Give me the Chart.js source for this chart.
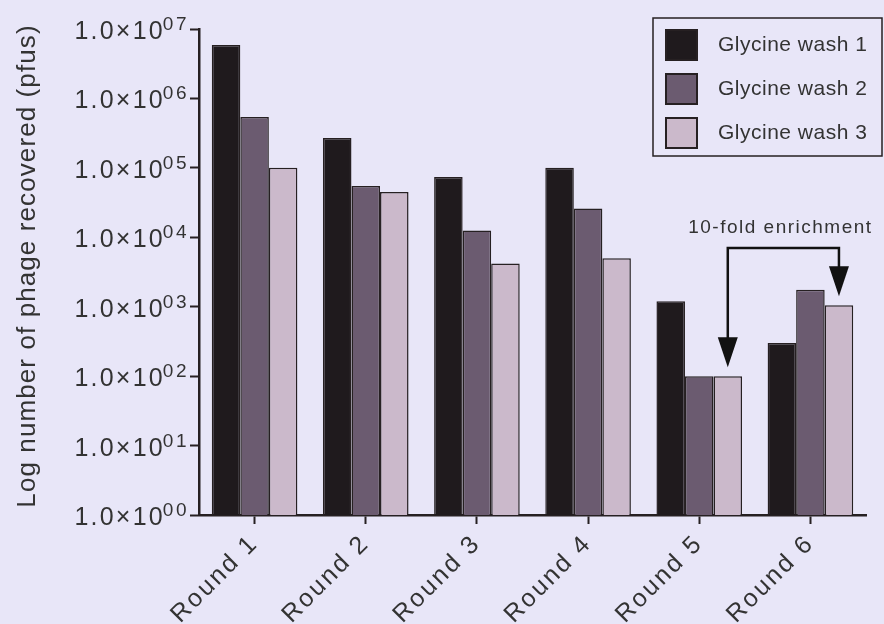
<!DOCTYPE html>
<html>
<head>
<meta charset="utf-8">
<script src="https://cdn.jsdelivr.net/npm/chart.js@4"></script>
<style>
  body { margin: 0; background: #e8e6f8; }
  #wrap { width: 884px; height: 624px; }
</style>
</head>
<body>
<div id="wrap"><canvas id="phageChart"></canvas></div>
<script>
// data (pfus per round)
var rounds = ['Round 1', 'Round 2', 'Round 3', 'Round 4', 'Round 5', 'Round 6'];
var wash1 = [5.9e6, 2.7e5, 7.4e4, 1.0e5, 1.2e3, 3.0e2];
var wash2 = [5.4e5, 5.5e4, 1.25e4, 2.6e4, 1.0e2, 1.75e3];
var wash3 = [1.0e5, 4.5e4, 4.2e3, 5.0e3, 1.0e2, 1.05e3];
var seriesNames = ['Glycine wash 1', 'Glycine wash 2', 'Glycine wash 3'];
var seriesColors = ['#1f1a1d', '#6b5b70', '#cbb9cb'];
var yTicks = [1, 10, 100, 1e3, 1e4, 1e5, 1e6, 1e7];
var yTickLabels = ['1.0×10^00', '1.0×10^01', '1.0×10^02', '1.0×10^03', '1.0×10^04', '1.0×10^05', '1.0×10^06', '1.0×10^07'];
var yTitle = 'Log number of phage recovered (pfus)';
var noteText = '10-fold enrichment';
var noteFrom = 4, noteTo = 5, noteSeries = 2, noteLevel = 7e3;

var textColor = '#333333';
var lineColor = '#262022';
var fontFamily = '"Liberation Sans", Arial, sans-serif';

// background + letter spacing for the x labels
var backgroundPlugin = {
    id: 'backgroundFill',
    beforeDraw: function (chart) {
        var ctx = chart.ctx;
        ctx.save();
        ctx.fillStyle = '#e8e6f8';
        ctx.fillRect(0, 0, chart.width, chart.height);
        ctx.restore();
        ctx.letterSpacing = '2.5px';
    }
};

// y tick labels with a raised exponent, and the y title
var yLabelPlugin = {
    id: 'powerLabels',
    afterDraw: function (chart) {
        var ctx = chart.ctx;
        var y = chart.scales.y;
        ctx.save();
        ctx.fillStyle = textColor;
        ctx.textAlign = 'right';
        ctx.textBaseline = 'alphabetic';
        y.ticks.forEach(function (t) {
            var parts = yTickLabels[yTicks.indexOf(t.value)].split('^');
            var py = y.getPixelForValue(t.value);
            var right = y.right - 12;
            ctx.letterSpacing = '2.5px';
            ctx.font = '19px ' + fontFamily;
            ctx.fillText(parts[1], right + 2, py + 1);
            var w = ctx.measureText(parts[1]).width;
            ctx.letterSpacing = '2.2px';
            ctx.font = '25px ' + fontFamily;
            ctx.fillText(parts[0], right - w + 4, py + 10);
        });
        ctx.letterSpacing = '1.1px';
        ctx.font = '26px ' + fontFamily;
        ctx.textAlign = 'center';
        ctx.textBaseline = 'middle';
        ctx.translate(28, (chart.chartArea.top + chart.chartArea.bottom) / 2 - 6);
        ctx.rotate(-Math.PI / 2);
        ctx.fillText(yTitle, 0, 0);
        ctx.restore();
    }
};

// legend box in the top right corner
var legendPlugin = {
    id: 'boxLegend',
    afterDraw: function (chart) {
        var ctx = chart.ctx;
        ctx.save();
        ctx.letterSpacing = '0.5px';
        ctx.strokeStyle = lineColor;
        ctx.lineWidth = 1.5;
        ctx.strokeRect(653, 18, 229, 138);
        ctx.font = '21px ' + fontFamily;
        ctx.textBaseline = 'middle';
        chart.data.datasets.forEach(function (ds, i) {
            var cy = 45 + i * 44;
            ctx.fillStyle = ds.backgroundColor;
            ctx.fillRect(666, cy - 15, 31, 30);
            ctx.lineWidth = 2;
            ctx.strokeStyle = lineColor;
            ctx.strokeRect(666, cy - 15, 31, 30);
            ctx.fillStyle = textColor;
            ctx.fillText(ds.label, 718, cy);
        });
        ctx.restore();
    }
};

// bracket with two arrows between two bars
var notePlugin = {
    id: 'enrichmentNote',
    afterDraw: function (chart) {
        var ctx = chart.ctx;
        var meta = chart.getDatasetMeta(noteSeries);
        var a = meta.data[noteFrom], b = meta.data[noteTo];
        var yLine = chart.scales.y.getPixelForValue(noteLevel);
        ctx.save();
        ctx.strokeStyle = '#111';
        ctx.fillStyle = '#111';
        ctx.lineWidth = 2.5;
        ctx.beginPath();
        ctx.moveTo(a.x, a.y - 38);
        ctx.lineTo(a.x, yLine);
        ctx.lineTo(b.x, yLine);
        ctx.lineTo(b.x, b.y - 38);
        ctx.stroke();
        [a, b].forEach(function (el) {
            var tip = el.y - 9;
            ctx.beginPath();
            ctx.moveTo(el.x, tip);
            ctx.lineTo(el.x - 10, tip - 30);
            ctx.lineTo(el.x + 10, tip - 30);
            ctx.closePath();
            ctx.fill();
        });
        ctx.letterSpacing = '1.5px';
        ctx.font = '19px ' + fontFamily;
        ctx.fillStyle = textColor;
        ctx.textAlign = 'center';
        ctx.textBaseline = 'alphabetic';
        ctx.fillText(noteText, (a.x + b.x) / 2 - 3, yLine - 15);
        ctx.restore();
    }
};

var ctx = document.getElementById('phageChart').getContext('2d');
new Chart(ctx, {
    type: 'bar',
    data: {
        labels: rounds,
        datasets: [wash1, wash2, wash3].map(function (vals, i) {
            return {
                label: seriesNames[i],
                data: vals,
                backgroundColor: seriesColors[i],
                borderColor: lineColor,
                borderWidth: 1.5,
                categoryPercentage: 0.77,
                barPercentage: 1.0
            };
        })
    },
    options: {
        responsive: true,
        maintainAspectRatio: false,
        animation: false,
        layout: { padding: { top: 29, right: 18, left: 0, bottom: 0 } },
        plugins: {
            legend: { display: false },
            tooltip: { enabled: false }
        },
        scales: {
            x: {
                grid: { display: true, drawOnChartArea: false, offset: false, tickLength: 9, tickWidth: 2, color: lineColor },
                border: { color: lineColor, width: 2.5 },
                ticks: {
                    minRotation: 45, maxRotation: 45, padding: 5,
                    color: textColor,
                    font: { family: fontFamily, size: 25 }
                },
                afterFit: function (scale) { scale.height = 109; }
            },
            y: {
                type: 'logarithmic',
                min: 1,
                max: 1e7,
                afterBuildTicks: function (scale) {
                    scale.ticks = yTicks.map(function (v) { return { value: v }; });
                },
                afterFit: function (scale) { scale.width = 199; },
                grid: { display: true, drawOnChartArea: false, tickLength: 9, tickWidth: 2, color: lineColor },
                border: { color: lineColor, width: 2.5 },
                ticks: { display: false }
            }
        }
    },
    plugins: [backgroundPlugin, yLabelPlugin, legendPlugin, notePlugin]
});
</script>
</body>
</html>
